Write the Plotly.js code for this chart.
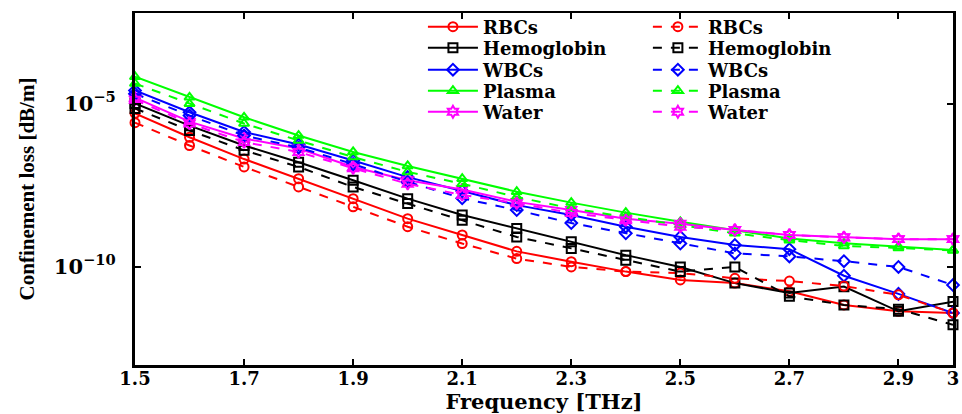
<!DOCTYPE html>
<html>
<head>
<meta charset="utf-8">
<script src="https://cdn.plot.ly/plotly-3.0.1.min.js"></script>
<style>html,body{margin:0;padding:0;background:#fff;}#chart{width:962px;height:414px;}</style>
</head>
<body>
<div id="chart"></div>
<script>
const freq = [1.5,1.6,1.7,1.8,1.9,2.0,2.1,2.2,2.3,2.4,2.5,2.6,2.7,2.8,2.9,3.0];

const rbcsSolid   = [5.0e-6,9.3e-7,2.0e-7,5.0e-8,1.23e-8,3.0e-9,9.5e-10,3.0e-10,1.45e-10,7.2e-11,4.0e-11,3.2e-11,1.8e-11,6.9e-12,4.4e-12,3.9e-12];
const rbcsDash    = [2.6e-6,5.2e-7,1.15e-7,2.8e-8,6.9e-9,1.7e-9,5.2e-10,1.8e-10,1.0e-10,7.2e-11,6.5e-11,4.5e-11,3.7e-11,2.6e-11,1.4e-11,3.9e-12];
const hemoSolid   = [1.0e-5,2.1e-6,5.2e-7,1.6e-7,4.5e-8,1.23e-8,3.9e-9,1.5e-9,5.9e-10,2.3e-10,1.0e-10,3.2e-11,1.6e-11,2.5e-11,4.4e-12,8.7e-12];
const hemoDash    = [7.1e-6,1.5e-6,3.7e-7,1.15e-7,2.8e-8,8.7e-9,2.7e-9,8.3e-10,3.7e-10,1.6e-10,7.2e-11,1.0e-10,1.26e-11,6.9e-12,5.1e-12,1.7e-12];
const wbcsSolid   = [2.5e-5,5.4e-6,1.35e-6,5.6e-7,1.8e-7,5.6e-8,2.1e-8,7.8e-9,3.9e-9,1.7e-9,8.3e-10,4.7e-10,3.5e-10,5.4e-11,1.5e-11,3.9e-12];
const wbcsDash    = [2.0e-5,4.3e-6,1.05e-6,4.5e-7,1.4e-7,4.0e-8,1.26e-8,5.5e-9,2.2e-9,1.07e-9,5.2e-10,2.6e-10,2.1e-10,1.5e-10,1.0e-10,2.8e-11];
const plasmaSolid = [6.6e-5,1.55e-5,3.8e-6,1.05e-6,3.3e-7,1.23e-7,5.0e-8,2.0e-8,9.3e-9,4.6e-9,2.4e-9,1.35e-9,7.4e-10,5.3e-10,4.2e-10,3.3e-10];
const plasmaDash  = [4.1e-5,9.8e-6,2.45e-6,7.4e-7,2.3e-7,8.1e-8,3.5e-8,1.38e-8,6.2e-9,3.4e-9,1.9e-9,1.07e-9,6.6e-10,4.4e-10,3.8e-10,3.2e-10];
const waterSolid  = [1.5e-5,2.8e-6,8.5e-7,4.2e-7,1.15e-7,4.5e-8,2.35e-8,9.8e-9,5.5e-9,3.0e-9,2.1e-9,1.35e-9,9.5e-10,8.1e-10,7.1e-10,7.1e-10];
const waterDash   = [1.3e-5,2.45e-6,6.6e-7,3.3e-7,1.05e-7,3.5e-8,1.6e-8,8.9e-9,4.5e-9,2.7e-9,1.7e-9,1.35e-9,9.5e-10,8.0e-10,7.1e-10,7.1e-10];

const seriesNames = ["RBCs","Hemoglobin","WBCs","Plasma","Water"];
const xTickVals = [1.5,1.7,1.9,2.1,2.3,2.5,2.7,2.9,3];
const xTickText = ["1.5","1.7","1.9","2.1","2.3","2.5","2.7","2.9","3"];
const yTickVals = [1e-10,1e-5];
const yTickText = ["10<sup>\u221210</sup>","10<sup>\u22125</sup>"];

const styles = [
  {color:"#ff0000", symbol:"circle-open"},
  {color:"#000000", symbol:"square-open"},
  {color:"#0000ff", symbol:"diamond-open"},
  {color:"#00ff00", symbol:"triangle-up-open"},
  {color:"#ff00ff", symbol:"hexagram-open"}
];
const solidData = [rbcsSolid, hemoSolid, wbcsSolid, plasmaSolid, waterSolid];
const dashData  = [rbcsDash, hemoDash, wbcsDash, plasmaDash, waterDash];

// legend placement: one small legend per entry (two columns, five rows)
const legendColX = [0.352, 0.627];
const legendRowY = [0.9575, 0.898, 0.8357, 0.7762, 0.7167];
const legendFont = {family: "DejaVu Serif", size: 18, color: "#000", weight: "bold"};
const legendKey = n => n === 1 ? "legend" : "legend" + n;

const traces = [];
const legends = {};
[["solid", solidData], ["dash", dashData]].forEach(([dash, arr], col) => {
  for (let i = 0; i < seriesNames.length; i++) {
    const n = i * 2 + col + 1;
    const key = legendKey(n);
    legends[key] = {
      x: legendColX[col], xanchor: "left", y: legendRowY[i], yanchor: "middle", itemwidth: 50,
      bgcolor: "rgba(0,0,0,0)", borderwidth: 0, font: legendFont
    };
    traces.push({
      x: freq, y: arr[i], name: seriesNames[i], type: "scatter", mode: "lines+markers",
      legend: key, cliponaxis: false,
      line: {color: styles[i].color, width: 2, dash: dash},
      marker: {symbol: styles[i].symbol, size: 9, color: styles[i].color, line: {color: styles[i].color, width: 2}}
    });
  }
});

const layout = Object.assign({
  width: 962, height: 414,
  margin: {l: 135, r: 9, t: 12, b: 49},
  paper_bgcolor: "#ffffff", plot_bgcolor: "#ffffff",
  showlegend: true,
  xaxis: {
    range: [1.5, 3], tickvals: xTickVals, ticktext: xTickText,
    ticks: "inside", ticklen: 6, tickwidth: 2, tickcolor: "#000",
    showline: true, linecolor: "#000", linewidth: 2.5, mirror: "ticks",
    showgrid: false, zeroline: false, ticklabelstandoff: -4,
    tickfont: {family: "DejaVu Serif", size: 18, color: "#000", weight: "bold"},
    title: {text: "Frequency [THz]", standoff: 7, font: {family: "DejaVu Serif", size: 21, color: "#000", weight: "bold"}}
  },
  yaxis: {
    type: "log", range: [-13, -2.23], tickvals: yTickVals, ticktext: yTickText,
    ticks: "inside", ticklen: 6, tickwidth: 2, tickcolor: "#000",
    showline: true, linecolor: "#000", linewidth: 3, mirror: "ticks",
    showgrid: false, zeroline: false, ticklabelstandoff: 12,
    tickfont: {family: "DejaVu Serif", size: 21, color: "#000", weight: "bold"},
    title: {text: "Confinement loss [dB/m]", standoff: 14, font: {family: "Liberation Serif", size: 21, color: "#000", weight: "bold"}}
  }
}, legends);

Plotly.newPlot("chart", traces, layout, {displayModeBar: false, staticPlot: true});
</script>
</body>
</html>
